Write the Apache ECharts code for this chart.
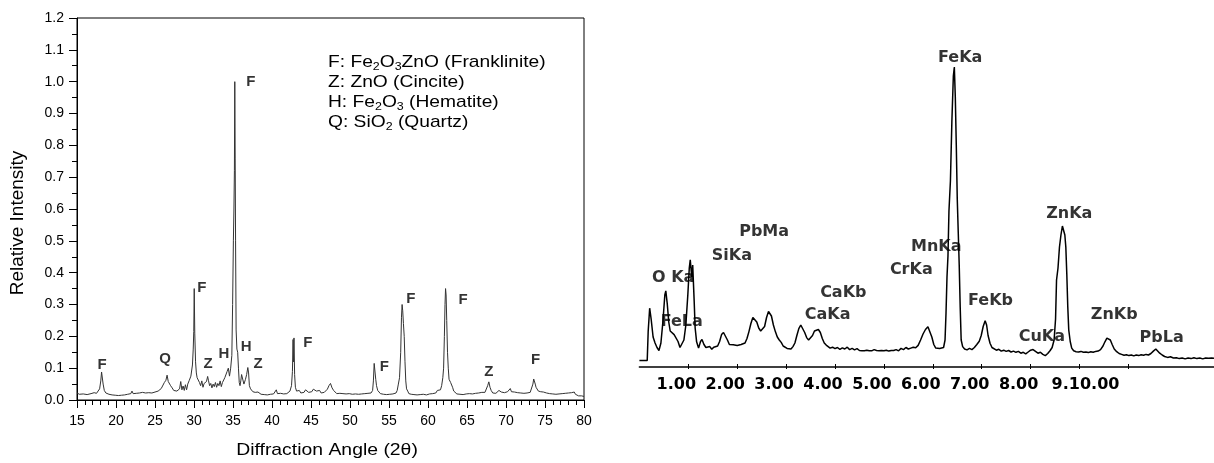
<!DOCTYPE html>
<html>
<head>
<meta charset="utf-8">
<script src="https://cdn.jsdelivr.net/npm/echarts@6/dist/echarts.min.js"></script>
<style>html,body{margin:0;padding:0;background:#fff}#c{width:1214px;height:463px}</style>
</head>
<body>
<div id="c"></div>
<script>
// ---------- Left chart: XRD pattern ----------
const xrdXTicks = [15, 80, 5];           // min, max, step
const xrdYTicks = [0, 1.2, 0.1];
const xrdPoints = [
[15.0,0.022],[15.3,0.018],[15.5,0.024],[15.8,0.019],[16.0,0.021],[16.3,0.017],[16.5,0.022],[16.8,0.020],[17.0,0.018],[17.2,0.023],
[17.5,0.021],[17.7,0.026],[17.9,0.035],[18.05,0.06],[18.15,0.088],[18.25,0.085],[18.35,0.05],[18.5,0.03],[18.7,0.022],[18.9,0.025],
[19.1,0.018],[19.3,0.020],[19.5,0.016],[19.7,0.019],[19.9,0.015],[20.1,0.018],[20.3,0.014],[20.5,0.017],[20.7,0.015],[20.9,0.019],
[21.1,0.016],[21.3,0.021],[21.5,0.018],[21.7,0.022],[21.9,0.020],[22.05,0.028],[22.2,0.020],[22.4,0.017],[22.6,0.021],[22.8,0.018],
[23.0,0.022],[23.2,0.019],[23.4,0.024],[23.6,0.030],[23.8,0.022],[24.0,0.020],[24.2,0.023],[24.4,0.019],[24.6,0.022],[24.8,0.021],
[25.0,0.025],[25.2,0.023],[25.4,0.028],[25.6,0.030],[25.8,0.036],[26.0,0.042],[26.2,0.055],[26.4,0.062],[26.55,0.078],[26.7,0.058],
[26.85,0.052],[27.0,0.045],[27.2,0.038],[27.4,0.030],[27.6,0.025],[27.8,0.028],[28.0,0.024],[28.15,0.035],[28.3,0.058],[28.45,0.032],
[28.6,0.044],[28.75,0.030],[28.9,0.048],[29.05,0.032],[29.2,0.050],[29.4,0.062],[29.6,0.075],[29.8,0.11],[29.9,0.16],[29.97,0.215],
[30.03,0.35],[30.1,0.21],[30.2,0.12],[30.3,0.085],[30.4,0.07],[30.55,0.075],[30.7,0.055],[30.85,0.045],[31.0,0.06],[31.15,0.04],
[31.3,0.052],[31.45,0.048],[31.6,0.058],[31.75,0.074],[31.85,0.062],[32.0,0.045],[32.15,0.052],[32.3,0.038],[32.45,0.05],[32.6,0.042],
[32.75,0.055],[32.9,0.040],[33.05,0.052],[33.2,0.045],[33.35,0.060],[33.5,0.042],[33.65,0.055],[33.8,0.060],[33.95,0.07],[34.1,0.065],
[34.25,0.09],[34.4,0.10],[34.55,0.075],[34.7,0.10],[34.85,0.14],[34.95,0.30],[35.05,0.50],[35.12,0.60],[35.18,0.72],[35.23,1.0],
[35.28,0.76],[35.33,0.50],[35.4,0.22],[35.5,0.16],[35.6,0.15],[35.7,0.10],[35.8,0.055],[35.9,0.045],[36.0,0.06],[36.1,0.08],
[36.2,0.075],[36.3,0.082],[36.4,0.05],[36.5,0.055],[36.6,0.065],[36.75,0.08],[36.9,0.102],[37.0,0.085],[37.1,0.045],[37.25,0.035],
[37.4,0.030],[37.55,0.026],[37.7,0.030],[37.85,0.024],[38.0,0.022],[38.2,0.025],[38.4,0.020],[38.6,0.018],[38.8,0.021],[39.0,0.017],
[39.2,0.019],[39.4,0.016],[39.6,0.020],[39.8,0.018],[40.0,0.022],[40.2,0.019],[40.4,0.024],[40.55,0.032],[40.7,0.020],[40.9,0.017],
[41.1,0.021],[41.3,0.016],[41.5,0.019],[41.7,0.022],[41.9,0.020],[42.1,0.024],[42.3,0.028],[42.5,0.045],[42.62,0.09],[42.7,0.19],
[42.76,0.12],[42.82,0.195],[42.9,0.08],[43.0,0.04],[43.15,0.028],[43.3,0.024],[43.5,0.030],[43.7,0.022],[43.9,0.028],[44.1,0.024],
[44.3,0.032],[44.5,0.036],[44.7,0.024],[44.9,0.030],[45.1,0.026],[45.3,0.034],[45.5,0.040],[45.7,0.028],[45.9,0.025],[46.1,0.030],
[46.3,0.022],[46.5,0.026],[46.7,0.024],[46.9,0.030],[47.1,0.034],[47.3,0.045],[47.5,0.052],[47.7,0.038],[47.9,0.030],[48.1,0.024],
[48.3,0.020],[48.5,0.018],[48.7,0.021],[48.9,0.017],[49.1,0.020],[49.3,0.016],[49.5,0.019],[49.7,0.017],[49.9,0.020],[50.1,0.016],
[50.3,0.018],[50.5,0.015],[50.7,0.019],[50.9,0.016],[51.1,0.018],[51.3,0.015],[51.5,0.019],[51.7,0.016],[51.9,0.020],[52.1,0.017],
[52.3,0.021],[52.5,0.018],[52.7,0.022],[52.9,0.030],[53.0,0.06],[53.1,0.115],[53.2,0.11],[53.3,0.065],[53.4,0.045],[53.55,0.030],
[53.7,0.024],[53.9,0.020],[54.1,0.022],[54.3,0.018],[54.5,0.021],[54.7,0.017],[54.9,0.020],[55.1,0.018],[55.3,0.022],[55.5,0.019],
[55.7,0.024],[55.9,0.022],[56.05,0.030],[56.2,0.05],[56.35,0.07],[56.5,0.15],[56.6,0.26],[56.68,0.30],[56.76,0.28],[56.85,0.24],
[56.95,0.20],[57.05,0.12],[57.15,0.06],[57.25,0.035],[57.4,0.028],[57.55,0.020],[57.7,0.024],[57.85,0.018],[58.0,0.021],[58.2,0.017],
[58.4,0.020],[58.6,0.016],[58.8,0.019],[59.0,0.017],[59.2,0.021],[59.4,0.018],[59.6,0.020],[59.8,0.016],[60.0,0.022],[60.2,0.019],
[60.4,0.023],[60.6,0.020],[60.8,0.025],[61.0,0.022],[61.2,0.030],[61.4,0.026],[61.6,0.032],[61.75,0.045],[61.9,0.07],[62.0,0.10],
[62.1,0.20],[62.18,0.30],[62.25,0.35],[62.32,0.33],[62.4,0.25],[62.5,0.15],[62.6,0.10],[62.7,0.065],[62.8,0.07],[62.9,0.055],
[63.0,0.06],[63.15,0.040],[63.3,0.028],[63.5,0.022],[63.7,0.019],[63.9,0.023],[64.1,0.018],[64.3,0.021],[64.5,0.017],[64.7,0.022],
[64.9,0.019],[65.1,0.024],[65.3,0.020],[65.5,0.023],[65.7,0.019],[65.9,0.025],[66.1,0.021],[66.3,0.026],[66.5,0.022],[66.7,0.028],
[66.9,0.024],[67.1,0.020],[67.3,0.024],[67.5,0.030],[67.65,0.045],[67.8,0.057],[67.95,0.040],[68.1,0.030],[68.3,0.022],[68.5,0.025],
[68.7,0.021],[68.9,0.026],[69.1,0.030],[69.25,0.034],[69.4,0.025],[69.6,0.020],[69.8,0.023],[70.0,0.021],[70.2,0.026],[70.4,0.032],
[70.55,0.036],[70.7,0.026],[70.9,0.022],[71.1,0.025],[71.3,0.020],[71.5,0.023],[71.7,0.019],[71.9,0.022],[72.1,0.018],[72.3,0.021],
[72.5,0.019],[72.7,0.022],[72.9,0.020],[73.1,0.024],[73.3,0.030],[73.45,0.050],[73.55,0.066],[73.65,0.062],[73.75,0.050],[73.85,0.040],
[74.0,0.036],[74.15,0.028],[74.3,0.034],[74.45,0.026],[74.6,0.022],[74.8,0.025],[75.0,0.019],[75.2,0.022],[75.4,0.017],[75.6,0.020],
[75.8,0.016],[76.0,0.019],[76.2,0.015],[76.4,0.018],[76.6,0.015],[76.8,0.019],[77.0,0.016],[77.2,0.020],[77.4,0.017],[77.6,0.021],
[77.8,0.018],[78.0,0.022],[78.2,0.019],[78.4,0.023],[78.6,0.020],[78.75,0.025],[78.9,0.018],[79.1,0.015],[79.3,0.013],[79.5,0.012],
[79.7,0.013],[80.0,0.011]
];
const xrdPeakText = ['F','Q','F','Z','H','H','Z','F','F','F','F','F','Z','F'];
const xrdPeakX    = [18.2, 26.3, 31.0, 31.8, 33.85, 36.7, 38.2, 37.3, 44.6, 54.4, 57.8, 64.5, 67.8, 73.8];
const xrdPeakY    = [0.11, 0.13, 0.352, 0.113, 0.145, 0.167, 0.113, 1.0, 0.18, 0.104, 0.318, 0.314, 0.088, 0.126];
const xrdXTitle = 'Diffraction Angle (2\u03b8)';
const xrdYTitle = 'Relative Intensity';
const xrdLegend = [
  ['F: Fe', '2', 'O', '3', 'ZnO (Franklinite)'],
  ['Z: ZnO (Cincite)'],
  ['H: Fe', '2', 'O', '3', ' (Hematite)'],
  ['Q: SiO', '2', ' (Quartz)']
];

// ---------- Right chart: EDS spectrum ----------
const edsTickValues = [1, 2, 3, 4, 5, 6, 7, 8, 9, 10];
const edsTickLabels = ['1.00', '2.00', '3.00', '4.00', '5.00', '6.00', '7.00', '8.00', '9.10.00', ''];
const edsPoints = [
[0.00,2.2],[0.16,2.2],[0.18,12],[0.21,19.6],[0.24,16],[0.28,10],[0.32,8],[0.36,6.5],[0.40,5.5],[0.44,8],
[0.48,15],[0.52,24],[0.54,25.4],[0.57,21],[0.60,15],[0.63,12],[0.67,12.5],[0.71,10.8],[0.75,10.5],[0.79,8.5],
[0.83,6.5],[0.87,6.3],[0.91,9],[0.95,14],[0.99,24],[1.02,33],[1.04,35.7],[1.07,30],[1.09,34],[1.12,22],
[1.14,13],[1.17,8.4],[1.21,6.3],[1.25,8.5],[1.28,9.2],[1.32,7.5],[1.36,6.5],[1.40,6.0],[1.44,6.8],[1.48,5.9],
[1.52,6.6],[1.56,6.2],[1.60,7.0],[1.64,8.5],[1.68,10.8],[1.72,11.5],[1.76,11.2],[1.80,9],[1.84,7.5],[1.88,7.0],
[1.92,7.4],[1.96,6.8],[2.00,7.2],[2.04,6.6],[2.08,7.5],[2.12,7.2],[2.16,8.0],[2.20,9.5],[2.24,11.8],[2.28,14.5],
[2.32,16.5],[2.36,16.8],[2.40,15],[2.44,13],[2.48,12],[2.52,11.8],[2.56,13.5],[2.60,16.5],[2.64,18.5],[2.67,19],
[2.70,17],[2.74,14],[2.78,11.8],[2.82,10],[2.86,9],[2.90,8.2],[2.94,7],[2.98,6.5],[3.02,6.2],[3.06,6.6],
[3.10,6.0],[3.14,6.8],[3.18,8],[3.22,10.5],[3.26,12.8],[3.30,14],[3.34,13.5],[3.38,11.5],[3.42,9.8],[3.46,9],
[3.50,9.2],[3.54,10.5],[3.58,12],[3.62,12.6],[3.66,12.5],[3.70,11.5],[3.74,9.5],[3.78,8],[3.82,7.3],[3.86,6.8],
[3.90,6.3],[3.95,6.6],[4.00,6.1],[4.05,6.5],[4.10,5.9],[4.15,6.4],[4.20,6.0],[4.25,6.6],[4.30,5.8],[4.35,6.2],
[4.40,5.7],[4.45,6.1],[4.50,5.5],[4.55,5.4],[4.60,5.4],[4.65,5.6],[4.70,5.4],[4.75,5.4],[4.80,5.8],[4.85,5.5],
[4.90,5.4],[4.95,5.5],[5.00,5.4],[5.05,5.6],[5.10,5.3],[5.15,5.5],[5.20,5.5],[5.25,5.8],[5.30,5.4],[5.35,6.2],
[5.40,5.8],[5.45,6.5],[5.50,6.0],[5.55,6.3],[5.60,6.6],[5.65,6.4],[5.70,7.2],[5.75,9],[5.80,11],[5.85,12.5],
[5.90,13.4],[5.94,12.8],[5.98,10],[6.02,7.5],[6.06,6.3],[6.10,5.9],[6.14,6.2],[6.18,5.7],[6.22,6.5],[6.25,9],
[6.27,18],[6.29,30],[6.31,37],[6.33,52],[6.36,62],[6.39,82],[6.42,97],[6.44,100],[6.46,90],[6.48,74],
[6.50,56],[6.52,45],[6.54,34],[6.56,20],[6.58,9],[6.61,6.8],[6.65,6.0],[6.70,5.7],[6.75,6.2],[6.80,5.8],
[6.85,6.5],[6.90,7.5],[6.95,8.6],[6.99,10.5],[7.03,13.5],[7.07,15.4],[7.10,14],[7.13,10.5],[7.17,7.9],[7.21,6.5],
[7.25,6.0],[7.30,5.6],[7.35,5.9],[7.40,5.3],[7.45,5.6],[7.50,5.2],[7.55,5.5],[7.60,5.0],[7.65,5.3],[7.70,4.9],
[7.75,5.2],[7.80,4.6],[7.85,4.9],[7.90,4.4],[7.95,5.0],[8.00,5.6],[8.05,5.8],[8.10,5.2],[8.15,4.6],[8.20,4.9],
[8.25,4.2],[8.30,3.8],[8.35,4.5],[8.40,5.5],[8.44,6.5],[8.48,9],[8.51,16],[8.53,29],[8.56,33],[8.59,40],
[8.62,44],[8.65,47],[8.68,47],[8.70,44],[8.72,40],[8.74,31],[8.76,20],[8.78,12.3],[8.81,8.5],[8.84,6.3],
[8.88,5.4],[8.93,5.1],[8.98,5.0],[9.03,5.2],[9.08,4.9],[9.13,5.0],[9.18,4.8],[9.23,5.1],[9.28,4.9],[9.33,5.2],
[9.38,5.3],[9.43,5.8],[9.48,7],[9.52,8.4],[9.56,9.6],[9.59,9.9],[9.63,9],[9.67,7.4],[9.71,6],[9.76,5.1],
[9.81,4.5],[9.86,4.2],[9.91,3.9],[9.96,4.1],[10.01,3.8],[10.06,4.0],[10.11,3.7],[10.16,4.0],[10.21,3.8],[10.26,4.1],
[10.31,3.9],[10.36,4.2],[10.41,4.0],[10.46,4.5],[10.51,5.3],[10.56,6.0],[10.60,5.6],[10.64,4.6],[10.69,4.0],[10.74,3.5],
[10.80,3.2],[10.86,3.4],[10.92,3.0],[10.98,3.1],[11.04,2.8],[11.10,3.0],[11.16,2.7],[11.22,3.0],[11.28,2.8],[11.34,3.1],
[11.40,2.8],[11.46,3.0],[11.52,2.7],[11.58,3.0],[11.64,2.9],[11.70,3.0],[11.75,2.9]
];
const edsPeakText = ['FeKa','ZnKa','MnKa','CrKa','FeKb','CuKa','ZnKb','PbLa','PbMa','SiKa','O Ka','FeLa','CaKb','CaKa'];
const edsPeakX    = [6.56, 8.79, 6.07, 5.56, 7.18, 8.23, 9.71, 10.68, 2.55, 1.89, 0.69, 0.865, 4.17, 3.85];
const edsPeakY    = [103, 50.9, 39.9, 32.3, 22.1, 9.9, 17.3, 9.6, 45.1, 37.1, 29.6, 15.1, 24.6, 17.3];

// ---------- build ----------
const chart = echarts.init(document.getElementById('c'), null, {renderer: 'canvas'});
const sans = 'Liberation Sans, Arial, sans-serif';
const eds = 'DejaVu Sans, sans-serif';

function legendRich() {
  return xrdLegend.map(parts => parts.map((p, i) => (i % 2 === 1 ? '{s|' + p + '}' : '{n|' + p + '}')).join('')).join('\n');
}
function edsLabel(v) {
  const i = edsTickValues.indexOf(Math.round(v));
  const t = i >= 0 ? edsTickLabels[i] : '';
  return t.length > 4 ? '{w|' + t + '}' : t;
}

const option = {
  animation: false,
  backgroundColor: '#fff',
  grid: [
    {left: 77, top: 18, width: 507, height: 382, show: true, borderColor: '#000', borderWidth: 1, backgroundColor: 'transparent'},
    {left: 639.4, top: 37, width: 574.6, height: 330, show: false}
  ],
  xAxis: [
    {gridIndex: 0, type: 'value', position: 'bottom', min: xrdXTicks[0], max: xrdXTicks[1], interval: xrdXTicks[2],
     axisLine: {show: true, onZero: false, lineStyle: {color: '#000', width: 1}},
     axisTick: {show: true, inside: false, length: 8, lineStyle: {color: '#000'}},
     minorTick: {show: true, splitNumber: 5, length: 5, lineStyle: {color: '#000'}},
     axisLabel: {color: '#000', fontFamily: sans, fontSize: 14, margin: 14},
     splitLine: {show: false}, minorSplitLine: {show: false}},
    {gridIndex: 1, type: 'value', position: 'bottom', min: 0, max: 11.75, interval: 1,
     axisLine: {show: true, onZero: false, lineStyle: {color: '#000', width: 1.5}},
     axisTick: {show: true, inside: true, length: 3, customValues: edsTickValues, lineStyle: {color: '#000'}},
     axisLabel: {customValues: edsTickValues, color: '#000', fontFamily: eds, fontWeight: 'bold', fontSize: 16, margin: 10,
       padding: [0, 24, 0, 0], formatter: edsLabel,
       rich: {w: {fontFamily: eds, fontWeight: 'bold', fontSize: 16, color: '#000', padding: [0, 0, 0, 36]}}},
     splitLine: {show: false}},
    {gridIndex: 1, type: 'value', position: 'bottom', offset: 0, min: 0, max: 11.75, interval: 1,
     axisLine: {show: false, onZero: false},
     axisTick: {show: true, inside: false, length: 2, customValues: edsTickValues, lineStyle: {color: '#000'}},
     axisLabel: {show: false}, splitLine: {show: false}}
  ],
  yAxis: [
    {gridIndex: 0, type: 'value', min: xrdYTicks[0], max: xrdYTicks[1], interval: xrdYTicks[2],
     axisLine: {show: true, onZero: false, lineStyle: {color: '#000', width: 1}},
     axisTick: {show: true, inside: false, length: 8, lineStyle: {color: '#000'}},
     minorTick: {show: true, splitNumber: 2, length: 5, lineStyle: {color: '#000'}},
     axisLabel: {color: '#000', fontFamily: sans, fontSize: 14, margin: 13, formatter: v => v.toFixed(1)},
     splitLine: {show: false}, minorSplitLine: {show: false}},
    {gridIndex: 1, type: 'value', min: 0, max: 110, show: false}
  ],
  series: [
    {type: 'line', xAxisIndex: 0, yAxisIndex: 0, data: xrdPoints, showSymbol: false, symbol: 'none',
     lineStyle: {color: '#333', width: 1}, silent: true},
    {type: 'scatter', xAxisIndex: 0, yAxisIndex: 0, symbolSize: 1, clip: false,
     itemStyle: {color: 'transparent'},
     data: xrdPeakX.map((x, i) => [x, xrdPeakY[i], xrdPeakText[i]]),
     label: {show: true, position: 'inside', formatter: p => p.data[2], color: '#000', fontFamily: sans, fontWeight: 'bold', fontSize: 15}},
    {type: 'line', xAxisIndex: 1, yAxisIndex: 1, data: edsPoints, showSymbol: false, symbol: 'none',
     lineStyle: {color: '#000', width: 1.5}, silent: true},
    {type: 'scatter', xAxisIndex: 1, yAxisIndex: 1, symbolSize: 1, clip: false,
     itemStyle: {color: 'transparent'},
     data: edsPeakX.map((x, i) => [x, edsPeakY[i], edsPeakText[i]]),
     label: {show: true, position: 'inside', formatter: p => p.data[2], color: '#000', fontFamily: eds, fontWeight: 'bold', fontSize: 16}}
  ],
  graphic: [
    {type: 'text', x: 328, y: 52, scaleX: 1.13, silent: true,
     style: {text: legendRich(), fill: '#000', font: '17px ' + sans,
       rich: {n: {fontSize: 17, fontFamily: sans, lineHeight: 20, fill: '#000'},
              s: {fontSize: 11, fontFamily: sans, lineHeight: 11, verticalAlign: 'bottom', fill: '#000'}}}},
    {type: 'text', x: 18, y: 223, rotation: Math.PI / 2, silent: true,
     style: {text: xrdYTitle, fill: '#000', fontSize: 19, fontFamily: sans, align: 'center', verticalAlign: 'middle'}},
    {type: 'text', x: 327, y: 450, scaleX: 1.14, silent: true,
     style: {text: xrdXTitle, fill: '#000', fontSize: 17, fontFamily: sans, align: 'center', verticalAlign: 'middle'}}
  ]
};
chart.setOption(option);
</script>
</body>
</html>
